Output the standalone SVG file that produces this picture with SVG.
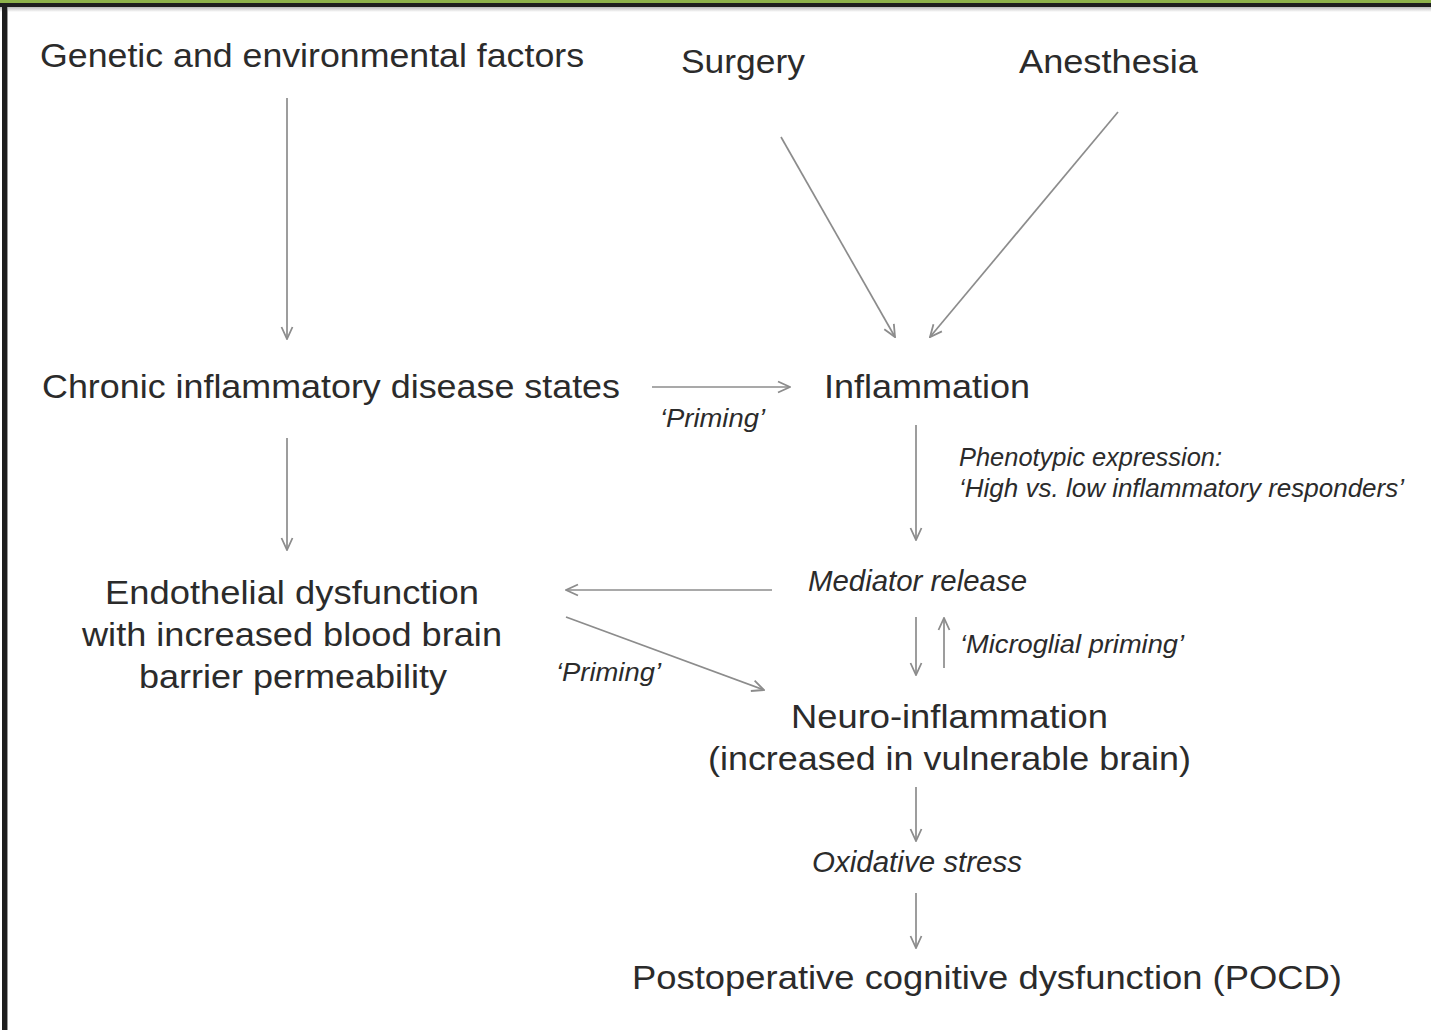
<svg xmlns="http://www.w3.org/2000/svg" width="1431" height="1030" viewBox="0 0 1431 1030">
<defs>
<marker id="ah" viewBox="0 0 14 14" refX="13" refY="7" markerWidth="14" markerHeight="14" markerUnits="userSpaceOnUse" orient="auto">
<path d="M1,1.5 L13,7 L1,12.5" fill="none" stroke="#8c8c8c" stroke-width="1.8"/>
</marker>
<linearGradient id="sh" x1="0" y1="0" x2="0" y2="1"><stop offset="0" stop-color="#bbbbbb"/><stop offset="1" stop-color="#ffffff"/></linearGradient>
</defs>
<style>
.t{font-family:"Liberation Sans",Arial,sans-serif;fill:#2b2b2b;font-size:33px}
.i{font-family:"Liberation Sans",Arial,sans-serif;fill:#2b2b2b;font-style:italic;font-size:25px}
.m{font-family:"Liberation Sans",Arial,sans-serif;fill:#2b2b2b;font-style:italic;font-size:29px}
.c{stroke:#8c8c8c;stroke-width:1.7;fill:none;marker-end:url(#ah)}
</style>
<rect x="0" y="0" width="1431" height="1030" fill="#ffffff"/>
<rect x="0" y="0" width="1431" height="3" fill="#8db24a"/>
<rect x="0" y="3" width="1431" height="4" fill="#1e1e1e"/>
<rect x="0" y="7" width="1431" height="5" fill="url(#sh)"/>
<rect x="2" y="3" width="5" height="1027" fill="#1e1e1e"/>
<rect x="7" y="7" width="1" height="1023" fill="#9a9a9a"/>

<g id="connectors">
<line class="c" x1="287" y1="98" x2="287" y2="339"/>
<line class="c" x1="781" y1="137" x2="895" y2="337"/>
<line class="c" x1="1118" y1="112" x2="930" y2="337"/>
<line class="c" x1="652" y1="387" x2="790" y2="387"/>
<line class="c" x1="287" y1="438" x2="287" y2="550"/>
<line class="c" x1="916" y1="425" x2="916" y2="540"/>
<line class="c" x1="772" y1="590" x2="566" y2="590"/>
<line class="c" x1="566" y1="617" x2="764" y2="690"/>
<line class="c" x1="916" y1="617" x2="916" y2="675"/>
<line class="c" x1="944" y1="668" x2="944" y2="618"/>
<line class="c" x1="916" y1="787" x2="916" y2="841"/>
<line class="c" x1="916" y1="893" x2="916" y2="948"/>
</g>

<g id="genetic"><text class="t" x="40" y="67" textLength="544" lengthAdjust="spacingAndGlyphs">Genetic and environmental factors</text></g>
<g id="surgery"><text class="t" x="681" y="73" textLength="124" lengthAdjust="spacingAndGlyphs">Surgery</text></g>
<g id="anesthesia"><text class="t" x="1019" y="73" textLength="179" lengthAdjust="spacingAndGlyphs">Anesthesia</text></g>
<g id="chronic"><text class="t" x="42" y="398" textLength="578" lengthAdjust="spacingAndGlyphs">Chronic inflammatory disease states</text></g>
<g id="inflammation"><text class="t" x="824" y="398" textLength="206" lengthAdjust="spacingAndGlyphs">Inflammation</text></g>
<g id="priming1"><text class="i" x="660" y="427" textLength="105" lengthAdjust="spacingAndGlyphs">‘Priming’</text></g>
<g id="phenotypic">
<text class="i" x="959" y="466" textLength="263" lengthAdjust="spacingAndGlyphs">Phenotypic expression:</text>
<text class="i" x="959" y="497" textLength="445" lengthAdjust="spacingAndGlyphs">‘High vs. low inflammatory responders’</text>
</g>
<g id="mediator"><text class="m" x="808" y="591" textLength="219" lengthAdjust="spacingAndGlyphs">Mediator release</text></g>
<g id="endothelial">
<text class="t" x="105" y="604" textLength="374" lengthAdjust="spacingAndGlyphs">Endothelial dysfunction</text>
<text class="t" x="82" y="646" textLength="420" lengthAdjust="spacingAndGlyphs">with increased blood brain</text>
<text class="t" x="139" y="688" textLength="308" lengthAdjust="spacingAndGlyphs">barrier permeability</text>
</g>
<g id="priming2"><text class="i" x="556" y="681" textLength="105" lengthAdjust="spacingAndGlyphs">‘Priming’</text></g>
<g id="microglial"><text class="i" x="960" y="653" textLength="224" lengthAdjust="spacingAndGlyphs">‘Microglial priming’</text></g>
<g id="neuro">
<text class="t" x="791" y="728" textLength="317" lengthAdjust="spacingAndGlyphs">Neuro-inflammation</text>
<text class="t" x="708" y="770" textLength="483" lengthAdjust="spacingAndGlyphs">(increased in vulnerable brain)</text>
</g>
<g id="oxidative"><text class="m" x="812" y="872" textLength="210" lengthAdjust="spacingAndGlyphs">Oxidative stress</text></g>
<g id="pocd"><text class="t" x="632" y="989" textLength="710" lengthAdjust="spacingAndGlyphs">Postoperative cognitive dysfunction (POCD)</text></g>
</svg>
